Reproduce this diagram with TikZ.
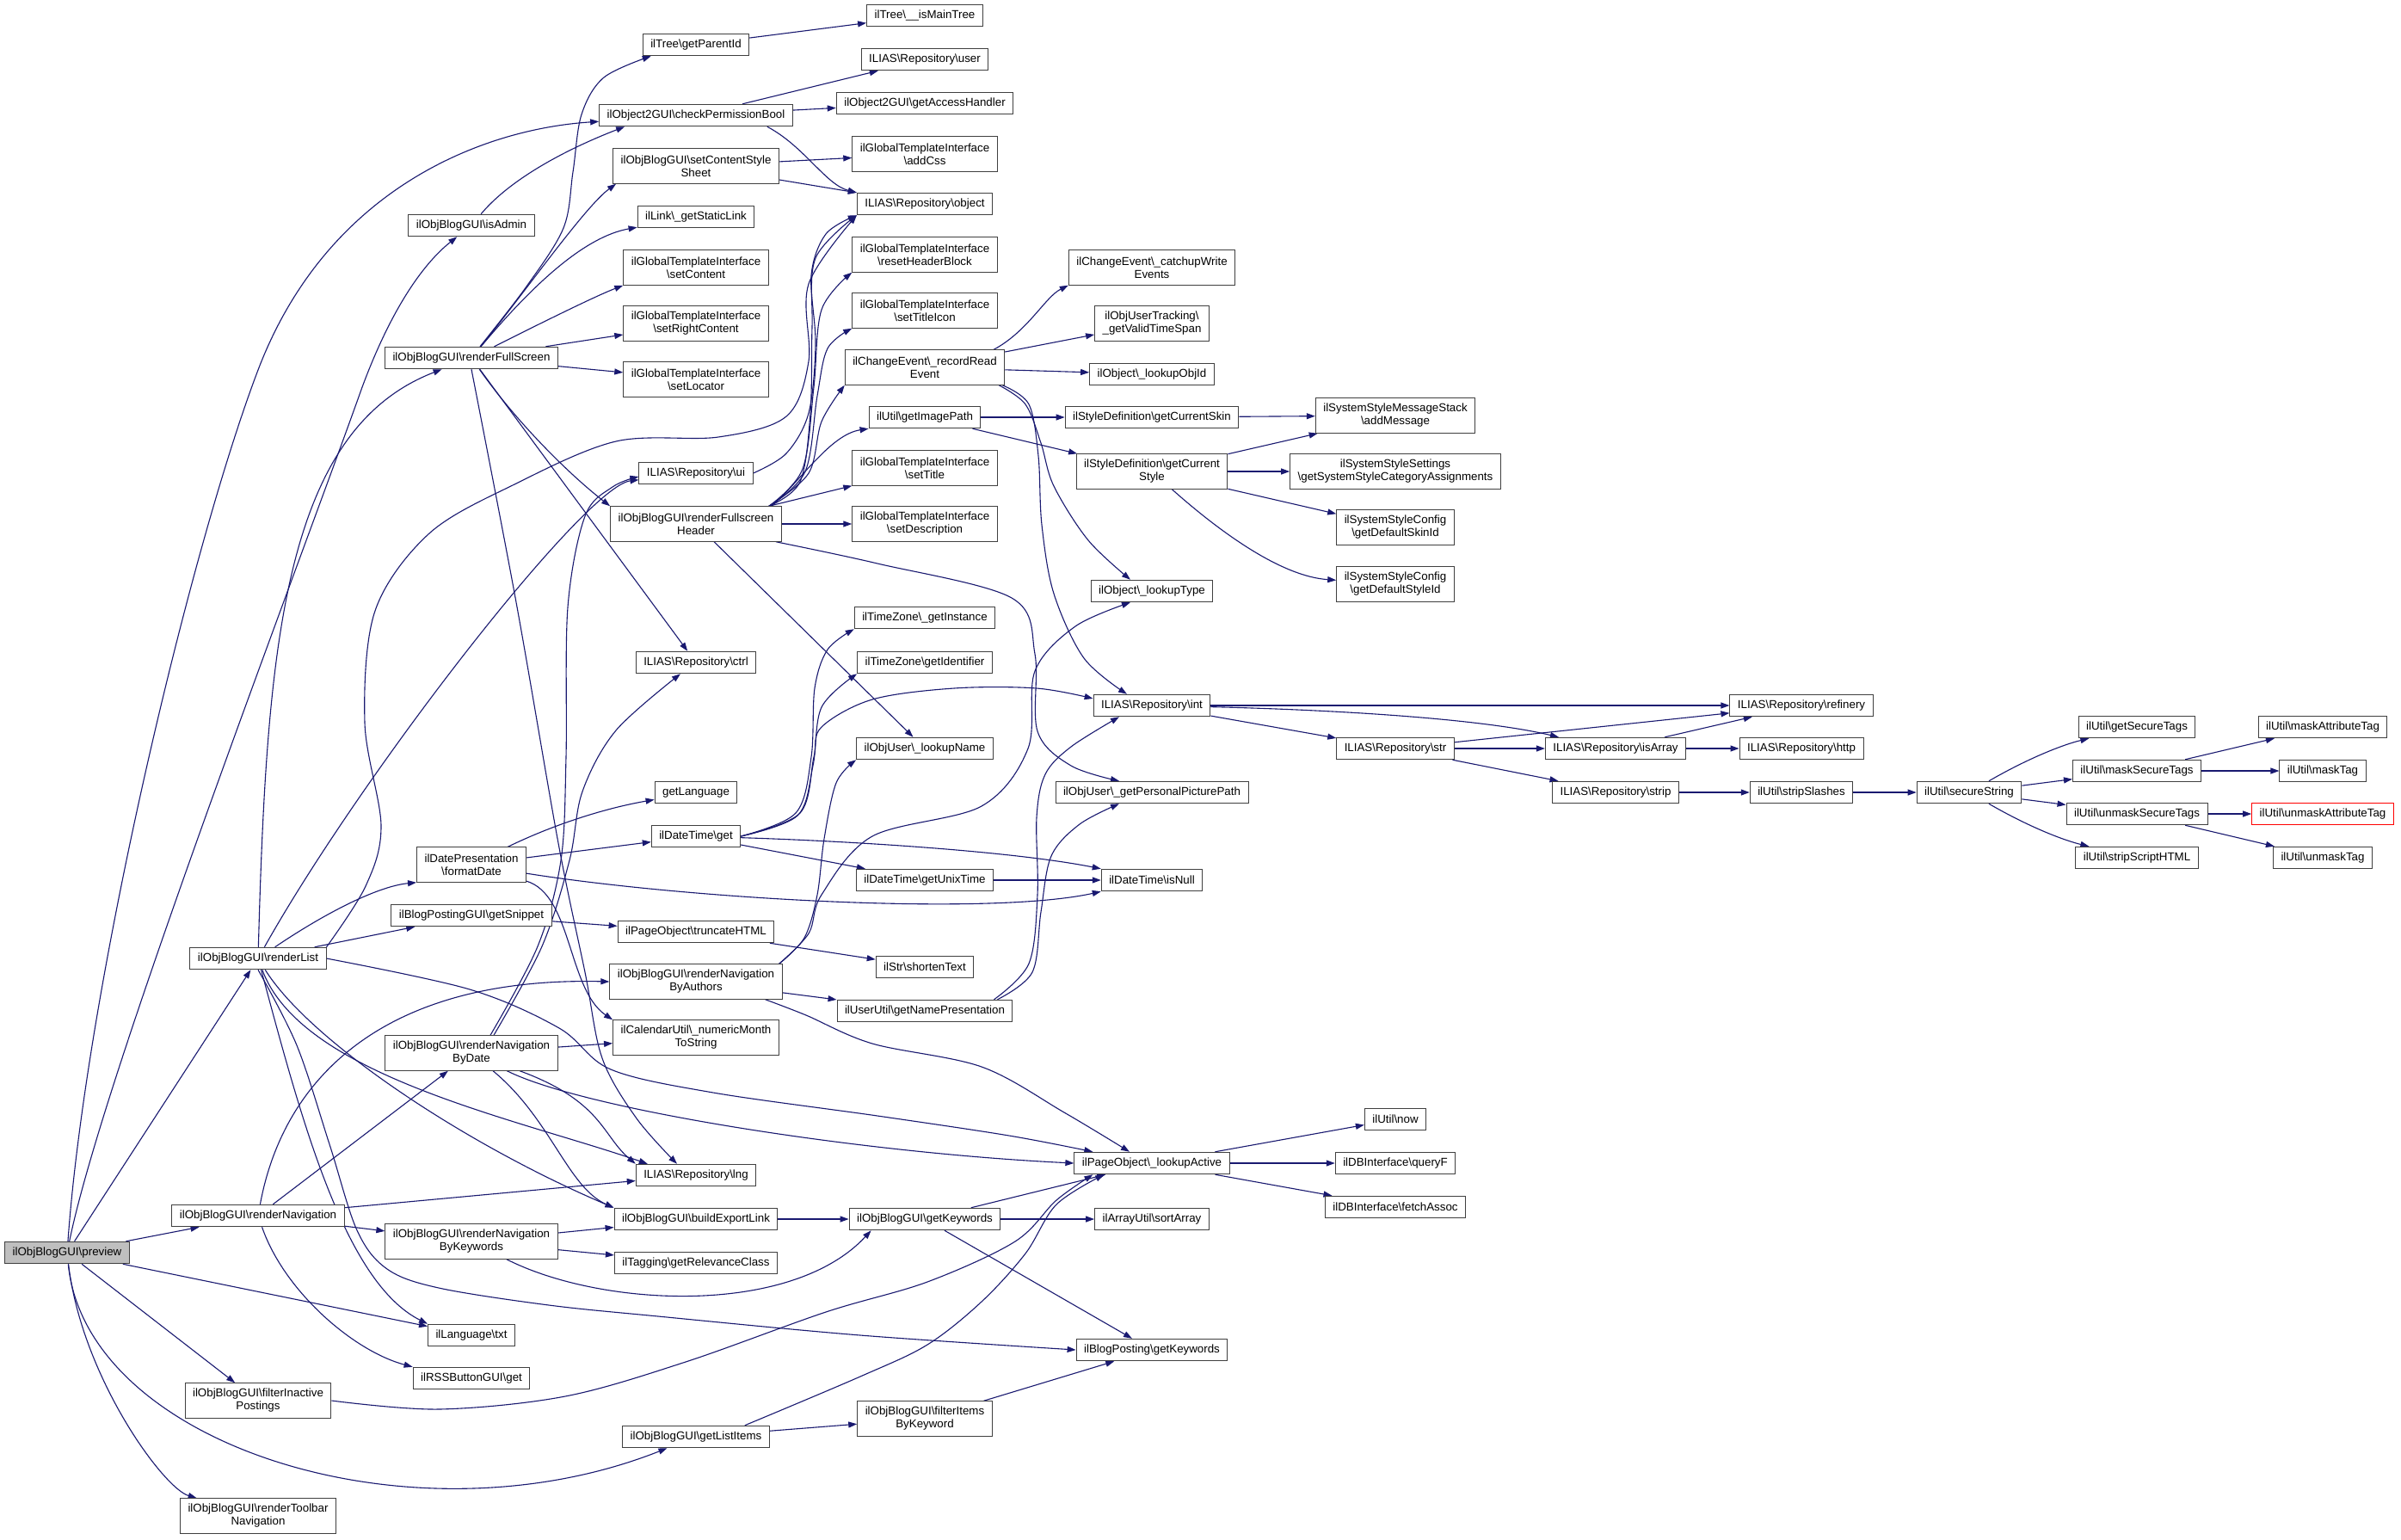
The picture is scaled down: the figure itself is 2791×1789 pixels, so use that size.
\documentclass[tikz,border=0pt]{standalone}
\usepackage{fontspec}
\setmainfont{Liberation Sans}
\usetikzlibrary{arrows.meta}
\definecolor{edgeblue}{HTML}{191970}
\newcommand{\myB}{\textbackslash}
\pgfdeclarelayer{bg}
\pgfsetlayers{bg,main}
\tikzset{
  nd/.style={draw=black!75, line width=1pt, fill=white, font=\fontsize{13.33}{15}\selectfont,
    inner xsep=9pt, inner ysep=2pt, minimum height=25.5pt, align=center},
  two/.style={minimum height=40.5pt},
  root/.style={fill=black!25},
  redbox/.style={draw=red},
  edge/.style={draw=edgeblue, line width=1.1pt, -{Triangle[length=10pt,width=7pt]}},
  sm/.style={smooth, tension=0.55}
}
\begin{document}
\begin{tikzpicture}[x=1pt,y=-1pt]
\useasboundingbox (0,0) rectangle (2791,1789);
% column 1-3
\node[nd,root] (prev) at (78,1456) {ilObjBlogGUI\myB preview};
\node[nd] (rlist) at (300,1114) {ilObjBlogGUI\myB renderList};
\node[nd] (rnav) at (300,1413) {ilObjBlogGUI\myB renderNavigation};
\node[nd,two] (filt) at (300,1628) {ilObjBlogGUI\myB filterInactive\\Postings};
\node[nd,two] (rtool) at (300,1762) {ilObjBlogGUI\myB renderToolbar\\Navigation};
\node[nd] (isadm) at (548,262) {ilObjBlogGUI\myB isAdmin};
\node[nd] (rfs) at (548,416) {ilObjBlogGUI\myB renderFullScreen};
\node[nd,two] (fdate) at (548,1005) {ilDatePresentation\\\myB formatDate};
\node[nd] (snip) at (548,1064) {ilBlogPostingGUI\myB getSnippet};
\node[nd,two] (bydate) at (548,1224) {ilObjBlogGUI\myB renderNavigation\\ByDate};
\node[nd,two] (bykw) at (548,1443) {ilObjBlogGUI\myB renderNavigation\\ByKeywords};
\node[nd] (ltxt) at (548,1552) {ilLanguage\myB txt};
\node[nd] (rss) at (548,1602) {ilRSSButtonGUI\myB get};
% column 4
\node[nd] (ptid) at (809,52) {ilTree\myB getParentId};
\node[nd] (cpb) at (809,134) {ilObject2GUI\myB checkPermissionBool};
\node[nd,two] (css) at (809,193) {ilObjBlogGUI\myB setContentStyle\\Sheet};
\node[nd] (link) at (809,252) {ilLink\myB\_getStaticLink};
\node[nd,two] (scont) at (809,311) {ilGlobalTemplateInterface\\\myB setContent};
\node[nd,two] (src) at (809,376) {ilGlobalTemplateInterface\\\myB setRightContent};
\node[nd,two] (sloc) at (809,441) {ilGlobalTemplateInterface\\\myB setLocator};
\node[nd] (ui) at (809,550) {ILIAS\myB Repository\myB ui};
\node[nd,two] (rfh) at (809,609) {ilObjBlogGUI\myB renderFullscreen\\Header};
\node[nd] (ctrl) at (809,770) {ILIAS\myB Repository\myB ctrl};
\node[nd] (glang) at (809,921) {getLanguage};
\node[nd] (dtget) at (809,972) {ilDateTime\myB get};
\node[nd] (trunc) at (809,1083) {ilPageObject\myB truncateHTML};
\node[nd,two] (byauth) at (809,1141) {ilObjBlogGUI\myB renderNavigation\\ByAuthors};
\node[nd,two] (nmon) at (809,1206) {ilCalendarUtil\myB\_numericMonth\\ToString};
\node[nd] (lng) at (809,1366) {ILIAS\myB Repository\myB lng};
\node[nd] (bel) at (809,1417) {ilObjBlogGUI\myB buildExportLink};
\node[nd] (tag) at (809,1468) {ilTagging\myB getRelevanceClass};
\node[nd] (glist) at (809,1670) {ilObjBlogGUI\myB getListItems};
% column 5
\node[nd] (ismain) at (1075,18) {ilTree\myB\_\_isMainTree};
\node[nd] (user) at (1075,69) {ILIAS\myB Repository\myB user};
\node[nd] (gah) at (1075,120) {ilObject2GUI\myB getAccessHandler};
\node[nd,two] (addcss) at (1075,179) {ilGlobalTemplateInterface\\\myB addCss};
\node[nd] (obj) at (1075,237) {ILIAS\myB Repository\myB object};
\node[nd,two] (rhb) at (1075,296) {ilGlobalTemplateInterface\\\myB resetHeaderBlock};
\node[nd,two] (stic) at (1075,361) {ilGlobalTemplateInterface\\\myB setTitleIcon};
\node[nd,two] (rre) at (1075,427) {ilChangeEvent\myB\_recordRead\\Event};
\node[nd] (gip) at (1075,485) {ilUtil\myB getImagePath};
\node[nd,two] (stitle) at (1075,544) {ilGlobalTemplateInterface\\\myB setTitle};
\node[nd,two] (sdesc) at (1075,609) {ilGlobalTemplateInterface\\\myB setDescription};
\node[nd] (tzi) at (1075,718) {ilTimeZone\myB\_getInstance};
\node[nd] (tzid) at (1075,770) {ilTimeZone\myB getIdentifier};
\node[nd] (luname) at (1075,870) {ilObjUser\myB\_lookupName};
\node[nd] (unix) at (1075,1023) {ilDateTime\myB getUnixTime};
\node[nd] (shorten) at (1075,1124) {ilStr\myB shortenText};
\node[nd] (gnp) at (1075,1175) {ilUserUtil\myB getNamePresentation};
\node[nd] (gkw) at (1075,1417) {ilObjBlogGUI\myB getKeywords};
\node[nd,two] (fibk) at (1075,1649) {ilObjBlogGUI\myB filterItems\\ByKeyword};
% column 6
\node[nd,two] (cwe) at (1339,311) {ilChangeEvent\myB\_catchupWrite\\Events};
\node[nd,two] (gvts) at (1339,376) {ilObjUserTracking\myB\\\_getValidTimeSpan};
\node[nd] (lobjid) at (1339,435) {ilObject\myB\_lookupObjId};
\node[nd] (gcskin) at (1339,485) {ilStyleDefinition\myB getCurrentSkin};
\node[nd,two] (gcstyle) at (1339,548) {ilStyleDefinition\myB getCurrent\\Style};
\node[nd] (ltype) at (1339,687) {ilObject\myB\_lookupType};
\node[nd] (int) at (1339,820) {ILIAS\myB Repository\myB int};
\node[nd] (ppp) at (1339,921) {ilObjUser\myB\_getPersonalPicturePath};
\node[nd] (isnull) at (1339,1023) {ilDateTime\myB isNull};
\node[nd] (lact) at (1339,1352) {ilPageObject\myB\_lookupActive};
\node[nd] (sort) at (1339,1417) {ilArrayUtil\myB sortArray};
\node[nd] (bpkw) at (1339,1569) {ilBlogPosting\myB getKeywords};
% column 7
\node[nd,two] (addmsg) at (1622,483) {ilSystemStyleMessageStack\\\myB addMessage};
\node[nd,two] (sssca) at (1622,548) {ilSystemStyleSettings\\\myB getSystemStyleCategoryAssignments};
\node[nd,two] (dskin) at (1622,613) {ilSystemStyleConfig\\\myB getDefaultSkinId};
\node[nd,two] (dstyle) at (1622,679) {ilSystemStyleConfig\\\myB getDefaultStyleId};
\node[nd] (str) at (1622,870) {ILIAS\myB Repository\myB str};
\node[nd] (now) at (1622,1301) {ilUtil\myB now};
\node[nd] (qf) at (1622,1352) {ilDBInterface\myB queryF};
\node[nd] (fa) at (1622,1403) {ilDBInterface\myB fetchAssoc};
% columns 8-12
\node[nd] (isarr) at (1878,870) {ILIAS\myB Repository\myB isArray};
\node[nd] (strip) at (1878,921) {ILIAS\myB Repository\myB strip};
\node[nd] (ref) at (2094,820) {ILIAS\myB Repository\myB refinery};
\node[nd] (http) at (2094,870) {ILIAS\myB Repository\myB http};
\node[nd] (sslash) at (2094,921) {ilUtil\myB stripSlashes};
\node[nd] (secure) at (2289,921) {ilUtil\myB secureString};
\node[nd] (gst) at (2484,845) {ilUtil\myB getSecureTags};
\node[nd] (mst) at (2484,896) {ilUtil\myB maskSecureTags};
\node[nd] (umst) at (2484,946) {ilUtil\myB unmaskSecureTags};
\node[nd] (ssh) at (2484,997) {ilUtil\myB stripScriptHTML};
\node[nd] (mat) at (2700,845) {ilUtil\myB maskAttributeTag};
\node[nd] (mtag) at (2700,896) {ilUtil\myB maskTag};
\node[nd,redbox] (umat) at (2700,946) {ilUtil\myB unmaskAttributeTag};
\node[nd] (umtag) at (2700,997) {ilUtil\myB unmaskTag};

\begin{pgfonlayer}{bg}
\fill[white] (0,0) rectangle (2791,1789);
% preview
\draw[edge] (prev) .. controls (100,1150) and (220,640) .. (300,430) .. controls (380,220) and (560,150) .. (cpb);
\draw[edge] (prev) .. controls (120,1250) and (350,650) .. (421,450) .. controls (460,345) and (500,300) .. (isadm);
\draw[edge] (prev) -- (rlist);
\draw[edge] (prev) -- (rnav);
\draw[edge] (prev) -- (ltxt);
\draw[edge] (prev) -- (filt);
\draw[edge] (prev) .. controls (100,1680) and (480,1800) .. (glist);
\draw[edge] (prev) .. controls (95,1600) and (190,1730) .. (rtool);
% renderList
\draw[edge] (rlist) .. controls (310,750) and (330,500) .. (rfs);
\draw[edge] (rlist) .. controls (420,900) and (680,565) .. (ui);
\draw[edge] plot[sm] coordinates {(rlist.north east) (425,1030) (443,960) (424,840) (436,710) (499,620) (598,563) (716,513) (835,508) (914,484) (940,420) (940,330) (obj.south west)};
\draw[edge] (rlist) .. controls (380,1060) and (440,1030) .. (fdate.south west);
\draw[edge] (rlist) -- (snip);
\draw[edge] plot[sm] coordinates {(rlist.east) (546,1150) (650,1195) (710,1243) (829,1270) (1020,1297) (1173,1320) ([xshift=22pt]lact.north west)};
\draw[edge] (rlist) .. controls (360,1210) and (540,1330) .. (bel.north west);
\draw[edge] (rlist) .. controls (350,1250) and (600,1300) .. ([xshift=14pt]lng.north west);
\draw[edge] (rlist) .. controls (350,1300) and (400,1490) .. (ltxt.north west);
\draw[edge] plot[sm] coordinates {(rlist.south) (345,1215) (383,1330) (415,1430) (450,1475) (510,1497) (638,1517) (765,1530) (1000,1552) (bpkw.west)};
% renderNavigation
\draw[edge] (rnav) .. controls (330,1250) and (450,1135) .. (byauth.west);
\draw[edge] (rnav) -- (bydate);
\draw[edge] (rnav) -- (lng);
\draw[edge] (rnav) -- (bykw);
\draw[edge] (rnav) .. controls (330,1500) and (410,1570) .. (rss.north west);
% filter / list items
\draw[edge] plot[sm] coordinates {(filt.east) (510,1638) (657,1623) (797,1583) (960,1525) (1078,1490) (1180,1443) (1228,1395) ([xshift=22pt]lact.south west)};
\draw[edge] plot[sm] coordinates {([xshift=-29pt]glist.north east) (1000,1600) (1078,1563) (1141,1513) (1192,1457) (1228,1400) ([xshift=35pt]lact.south west)};
\draw[edge] (glist) -- (fibk);
% isAdmin
\draw[edge] (isadm) .. controls (600,200) and (680,165) .. ([xshift=30pt]cpb.south west);
% renderFullScreen
\draw[edge] plot[sm] coordinates {([xshift=10pt]rfs.north) (612,333) (655,265) (666,200) (676,133) (702,90) ([xshift=10pt]ptid.south west)};
\draw[edge] (rfs) .. controls (610,340) and (680,240) .. ([xshift=4pt]css.south west);
\draw[edge] (rfs) .. controls (620,330) and (680,275) .. (link);
\draw[edge] (rfs) .. controls (620,380) and (690,345) .. (scont.south west);
\draw[edge] (rfs) -- (src);
\draw[edge] (rfs) -- (sloc);
\draw[edge] (rfs) .. controls (600,490) and (660,550) .. (rfh.north west);
\draw[edge] (rfs) -- (ctrl);
\draw[edge] plot[sm] coordinates {(rfs.south) (600,700) (649,980) (680,1130) (700,1230) (740,1300) ([xshift=-22pt]lng.north)};
% formatDate
\draw[edge] (fdate) .. controls (640,960) and (700,940) .. (glang);
\draw[edge] (fdate) -- (dtget);
\draw[edge] (fdate) .. controls (800,1045) and (1150,1065) .. (isnull.south west);
\draw[edge] (fdate) .. controls (665,1040) and (660,1150) .. (nmon.north west);
\draw[edge] (snip) -- (trunc);
% ByDate
\draw[edge] plot[sm] coordinates {([xshift=22pt]bydate.north) (625,1100) (652,1000) (658,880) (660,706) (680,600) (712,566) ([yshift=-4pt]ui.west)};
\draw[edge] plot[sm] coordinates {([xshift=26pt]bydate.north) (630,1100) (662,1000) (677,920) (716,849) ([xshift=-18pt]ctrl.south)};
\draw[edge] (bydate) -- (nmon);
\draw[edge] (bydate) .. controls (640,1300) and (660,1380) .. (bel.north west);
\draw[edge] (bydate) .. controls (680,1290) and (1000,1340) .. (lact.west);
\draw[edge] (bydate) .. controls (700,1280) and (700,1320) .. (lng.north west);
% ByKeywords
\draw[edge] (bykw) -- (bel);
\draw[edge] (bykw) -- (tag);
\draw[edge] (bykw) .. controls (700,1520) and (920,1530) .. ([xshift=26pt]gkw.south west);
% column 4 sources
\draw[edge] (ptid) -- (ismain);
\draw[edge] (cpb) -- (user);
\draw[edge] (cpb) -- (gah);
\draw[edge] ([xshift=-30pt]cpb.south east) .. controls (935,170) and (960,215) .. (obj.north west);
\draw[edge] (css) -- (addcss);
\draw[edge] (css) -- (obj);
\draw[edge] plot[sm] coordinates {(ui.east) (914,527) (940,480) (948,400) (943,320) (960,272) (obj.south west)};
% renderFullscreenHeader
\draw[edge] plot[sm] coordinates {([xshift=-15pt]rfh.north east) (930,560) (942,480) (944,380) (948,300) (obj.south west)};
\draw[edge] plot[sm] coordinates {([xshift=-15pt]rfh.north east) (933,545) (946,450) (955,360) (rhb.south west)};
\draw[edge] plot[sm] coordinates {([xshift=-15pt]rfh.north east) (936,548) (950,460) (962,405) (stic.south west)};
\draw[edge] plot[sm] coordinates {([xshift=-15pt]rfh.north east) (940,550) (955,490) (rre.south west)};
\draw[edge] ([xshift=-12pt]rfh.north east) .. controls (930,560) and (965,505) .. (gip.south west);
\draw[edge] (rfh) -- (stitle);
\draw[edge] (rfh) -- (sdesc);
\draw[edge] plot[sm] coordinates {([xshift=-7pt]rfh.south east) (1020,655) (1176,695) (1203,760) (1206,850) (1245,890) ([xshift=-38pt]ppp.north)};
\draw[edge] (rfh) -- (luname);
% ilDateTime get
\draw[edge] plot[sm] coordinates {(dtget.east) (925,945) (943,880) (947,800) (962,755) (tzi.south west)};
\draw[edge] plot[sm] coordinates {(dtget.east) (927,948) (945,890) (955,822) (tzid.south west)};
\draw[edge] plot[sm] coordinates {(dtget.east) (930,945) (946,880) (955,845) (1014,813) (1109,800) (1205,800) ([yshift=8pt]int.west)};
\draw[edge] (dtget) -- (unix);
\draw[edge] (dtget) .. controls (1000,978) and (1180,990) .. (isnull.north west);
\draw[edge] (trunc) -- (shorten);
% ByAuthors
\draw[edge] plot[sm] coordinates {([xshift=-4pt]byauth.north east) (935,1090) (950,1040) (958,975) (972,910) (luname.south west)};
\draw[edge] plot[sm] coordinates {([xshift=-4pt]byauth.north east) (940,1085) (955,1040) (1014,972) (1141,937) (1195,870) (1203,780) (1250,728) ([xshift=-25pt]ltype.south)};
\draw[edge] (byauth) -- (gnp);
\draw[edge] plot[sm] coordinates {([xshift=-20pt]byauth.south east) (937,1180) (1014,1213) (1141,1240) (1237,1293) ([xshift=-26pt]lact.north)};
\draw[edge] (bel) -- (gkw);
% recordReadEvent
\draw[edge] ([xshift=-13pt]rre.north east) .. controls (1195,385) and (1215,345) .. (cwe.south west);
\draw[edge] (rre) -- (gvts);
\draw[edge] (rre) -- (lobjid);
\draw[edge] plot[sm] coordinates {([xshift=-7pt]rre.south east) (1192,470) (1210,515) (1225,565) (1265,628) ([xshift=-25pt]ltype.north)};
\draw[edge] plot[sm] coordinates {([xshift=-3pt]rre.south east) (1196,470) (1207,530) (1211,610) (1225,690) (1260,765) ([xshift=-29pt]int.north)};
\draw[edge] (gip) -- (gcskin);
\draw[edge] (gip) -- (gcstyle);
\draw[edge] (unix) -- (isnull);
% getNamePresentation
\draw[edge] plot[sm] coordinates {([xshift=-18pt]gnp.north east) (1200,1130) (1210,1060) (1222,995) (1255,958) ([xshift=-38pt]ppp.south)};
\draw[edge] plot[sm] coordinates {([xshift=-22pt]gnp.north east) (1196,1120) (1206,1040) (1205,950) (1215,900) (1245,868) ([xshift=-38pt]int.south)};
% getKeywords
\draw[edge] (gkw) -- (lact);
\draw[edge] (gkw) -- (sort);
\draw[edge] (gkw) -- (bpkw);
\draw[edge] (fibk) -- (bpkw);
% style definition
\draw[edge] (gcskin) -- (addmsg);
\draw[edge] (gcstyle) -- (addmsg);
\draw[edge] (gcstyle) -- (sssca);
\draw[edge] (gcstyle) -- (dskin);
\draw[edge] (gcstyle) .. controls (1420,620) and (1490,670) .. (dstyle);
% repository int / str
\draw[edge] (int) -- (ref);
\draw[edge] (int) .. controls (1550,825) and (1720,835) .. ([xshift=16pt]isarr.north west);
\draw[edge] (int) -- (str);
\draw[edge] (lact) -- (now);
\draw[edge] (lact) -- (qf);
\draw[edge] (lact) -- (fa);
\draw[edge] (str) -- (ref);
\draw[edge] (str) -- (isarr);
\draw[edge] (str) -- (strip);
\draw[edge] (isarr) -- (ref);
\draw[edge] (isarr) -- (http);
\draw[edge] (strip) -- (sslash);
\draw[edge] (sslash) -- (secure);
\draw[edge] (secure) .. controls (2360,880) and (2400,865) .. (gst);
\draw[edge] (secure) -- (mst);
\draw[edge] (secure) -- (umst);
\draw[edge] (secure) .. controls (2360,962) and (2400,977) .. (ssh);
\draw[edge] (mst) -- (mat);
\draw[edge] (mst) -- (mtag);
\draw[edge] (umst) -- (umat);
\draw[edge] (umst) -- (umtag);
\end{pgfonlayer}
\end{tikzpicture}
\end{document}
